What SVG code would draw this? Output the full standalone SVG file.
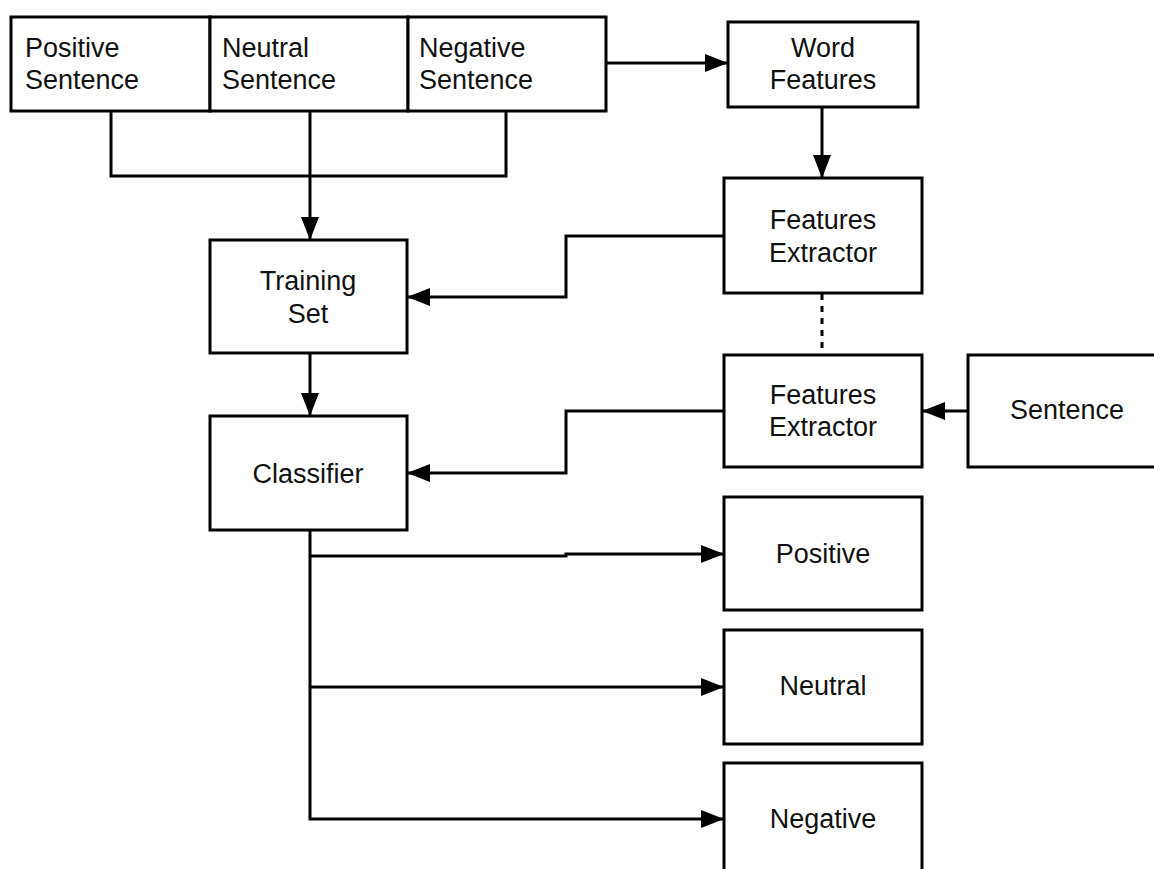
<svg xmlns="http://www.w3.org/2000/svg" width="1154" height="869" viewBox="0 0 1154 869">
<style>
.box{fill:#fff;stroke:#000;stroke-width:3}
.lbl{font-family:"Liberation Sans",Arial,sans-serif;font-size:27px;fill:#111}
.c{text-anchor:middle}
.conn{fill:none;stroke:#000;stroke-width:3}
.dot{fill:none;stroke:#000;stroke-width:3;stroke-dasharray:6,6}
</style>
<defs>
<marker id="ah" markerUnits="userSpaceOnUse" markerWidth="23" markerHeight="18" refX="23" refY="9" orient="auto">
<path d="M0,0 L23,9 L0,18 z" fill="#000"/>
</marker>
</defs>
<rect width="1154" height="869" fill="#fff"/>
<g id="connectors">
<path class="conn" d="M111,111 V176 H506 V111"/>
<path class="conn" d="M310,111 V240" marker-end="url(#ah)"/>
<path class="conn" d="M606,63 H728" marker-end="url(#ah)"/>
<path class="conn" d="M822,107 V178" marker-end="url(#ah)"/>
<path class="dot" d="M822,294 V354"/>
<path class="conn" d="M968,411 H922" marker-end="url(#ah)"/>
<path class="conn" d="M724,236 H566 V297 H407" marker-end="url(#ah)"/>
<path class="conn" d="M724,411 H566 V473 H407" marker-end="url(#ah)"/>
<path class="conn" d="M310,353 V416" marker-end="url(#ah)"/>
<path class="conn" d="M310,530 V819 H724" marker-end="url(#ah)"/>
<path class="conn" d="M310,556 H566 V554 H724" marker-end="url(#ah)"/>
<path class="conn" d="M310,687 H724" marker-end="url(#ah)"/>
</g>
<g id="positive-sentence">
<rect class="box" x="11" y="17" width="199" height="94"/>
<text class="lbl" x="25" y="57">Positive</text>
<text class="lbl" x="25" y="89">Sentence</text>
</g>
<g id="neutral-sentence">
<rect class="box" x="210" y="17" width="198" height="94"/>
<text class="lbl" x="222" y="57">Neutral</text>
<text class="lbl" x="222" y="89">Sentence</text>
</g>
<g id="negative-sentence">
<rect class="box" x="408" y="17" width="198" height="94"/>
<text class="lbl" x="419" y="57">Negative</text>
<text class="lbl" x="419" y="89">Sentence</text>
</g>
<g id="word-features">
<rect class="box" x="728" y="22" width="190" height="85"/>
<text class="lbl c" x="823" y="57">Word</text>
<text class="lbl c" x="823" y="89">Features</text>
</g>
<g id="features-extractor-1">
<rect class="box" x="724" y="178" width="198" height="115"/>
<text class="lbl c" x="823" y="229">Features</text>
<text class="lbl c" x="823" y="262">Extractor</text>
</g>
<g id="features-extractor-2">
<rect class="box" x="724" y="355" width="198" height="112"/>
<text class="lbl c" x="823" y="404">Features</text>
<text class="lbl c" x="823" y="436">Extractor</text>
</g>
<g id="sentence">
<rect class="box" x="968" y="355" width="200" height="112"/>
<text class="lbl c" x="1067" y="419">Sentence</text>
</g>
<g id="training-set">
<rect class="box" x="210" y="240" width="197" height="113"/>
<text class="lbl c" x="308" y="290">Training</text>
<text class="lbl c" x="308" y="323">Set</text>
</g>
<g id="classifier">
<rect class="box" x="210" y="416" width="197" height="114"/>
<text class="lbl c" x="308" y="483">Classifier</text>
</g>
<g id="positive">
<rect class="box" x="724" y="497" width="198" height="113"/>
<text class="lbl c" x="823" y="563">Positive</text>
</g>
<g id="neutral">
<rect class="box" x="724" y="630" width="198" height="114"/>
<text class="lbl c" x="823" y="695">Neutral</text>
</g>
<g id="negative">
<rect class="box" x="724" y="763" width="198" height="120"/>
<text class="lbl c" x="823" y="828">Negative</text>
</g>
</svg>
